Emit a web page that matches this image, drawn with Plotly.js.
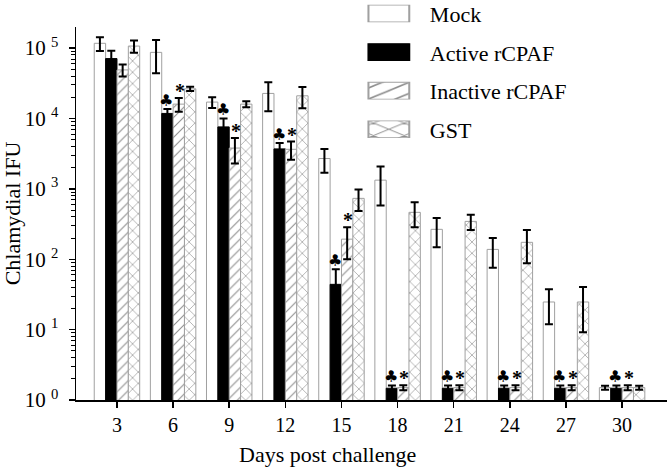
<!DOCTYPE html>
<html>
<head>
<meta charset="utf-8">
<script src="https://cdn.plot.ly/plotly-3.0.1.min.js"></script>
<style>html,body{margin:0;padding:0;background:#fff;}#chart{width:672px;height:468px;}</style>
</head>
<body>
<div id="chart"></div>
<script>
const days = ['3','6','9','12','15','18','21','24','27','30'];
const mock       = [1.17e5, 8.7e4, 1.71e4, 2.27e4, 2.7e3, 1.33e3, 266, 138, 24.7, 1.5];
const mockSd     = [2.6e4, 4.3e4, 3.0e3, 1.0e4, 1.0e3, 750, 118, 62, 12.8, 0.1];
const active     = [7.1e4, 1.18e4, 7.6e3, 3.7e3, 44, 1.47, 1.47, 1.47, 1.47, 1.47];
const activeSd   = [2.1e4, 1.8e3, 2.4e3, 0.8e3, 28, 0.14, 0.14, 0.14, 0.14, 0.14];
const inactive   = [4.9e4, 1.6e4, 3.8e3, 3.65e3, 193, 1.5, 1.5, 1.5, 1.5, 1.5];
const inactiveSd = [9.5e3, 3.5e3, 1.5e3, 1.05e3, 93, 0.12, 0.12, 0.12, 0.12, 0.12];
const gst        = [1.07e5, 2.64e4, 1.6e4, 2.1e4, 733, 464, 345, 174, 24.7, 1.5];
const gstSd      = [2.1e4, 1.8e3, 1.6e3, 7.0e3, 250, 180, 85, 86, 15.5, 0.1];
const activeSig   = [0,1,1,1,1,1,1,1,1,1];
const inactiveSig = [0,1,1,1,1,1,1,1,1,1];
const seriesNames = ['Mock', 'Active rCPAF', 'Inactive rCPAF', 'GST'];
const yTickVals = [1, 10, 100, 1000, 10000, 100000];
const yTickText = ['10 <sup>0</sup>', '10 <sup>1</sup>', '10 <sup>2</sup>', '10 <sup>3</sup>', '10 <sup>4</sup>', '10 <sup>5</sup>'];

const FONT = 'Liberation Serif, Times New Roman, serif';
const errStyle = sd => ({type:'data', array: sd, visible:true, color:'#000', thickness:2, width:4});

const traces = [
  {type:'bar', name:seriesNames[0], x:days, y:mock, error_y:errStyle(mockSd), legendgroup:'a',
   marker:{color:'#ffffff', line:{color:'#a0a0a0', width:1}}},
  {type:'bar', name:seriesNames[1], x:days, y:active, error_y:errStyle(activeSd), legendgroup:'b',
   marker:{color:'#000000', line:{color:'#000', width:1}}},
  {type:'bar', name:seriesNames[2], x:days, y:inactive, error_y:errStyle(inactiveSd), legendgroup:'c',
   marker:{color:'#ffffff', line:{color:'#a0a0a0', width:1},
     pattern:{shape:'/', fgcolor:'#8c8c8c', bgcolor:'#ffffff', size:7, solidity:0.15}}},
  {type:'bar', name:seriesNames[3], x:days, y:gst, error_y:errStyle(gstSd), legendgroup:'d',
   marker:{color:'#ffffff', line:{color:'#a0a0a0', width:1},
     pattern:{shape:'x', fgcolor:'#8c8c8c', bgcolor:'#ffffff', size:8, solidity:0.15}}}
];

const barW = 0.81/4;
const annotations = [];
days.forEach((d,i) => {
  if (activeSig[i]) annotations.push({x:i - barW/2, y:Math.log10(active[i]+activeSd[i]), xref:'x', yref:'y',
    text:'\u2663', showarrow:false, yanchor:'bottom', yshift:-3, xshift:-1, font:{family:'DejaVu Sans', size:16, color:'#000'}});
  if (inactiveSig[i]) annotations.push({x:i + barW/2, y:Math.log10(inactive[i]+inactiveSd[i]), xref:'x', yref:'y',
    text:'<b>*</b>', showarrow:false, yanchor:'bottom', yshift:-6, xshift:1, font:{family:FONT, size:20, color:'#000'}});
});
annotations.push({x:0.426, y:-0.147, xref:'paper', yref:'paper', text:'Days post challenge', showarrow:false,
  xanchor:'center', yanchor:'middle', font:{family:FONT, size:22, color:'#000'}});

const layout = {
  width:672, height:468,
  margin:{l:76, r:5, t:27, b:68, autoexpand:false},
  paper_bgcolor:'#fff', plot_bgcolor:'#fff',
  barmode:'group', bargap:0.19, bargroupgap:0,
  font:{family:FONT, color:'#000'},
  showlegend:true,
  legend:{x:0.46, y:1.092, xanchor:'left', yanchor:'top', bgcolor:'rgba(0,0,0,0)',
    font:{family:FONT, size:22, color:'#000'}, itemwidth:72, tracegroupgap:7, traceorder:'grouped'},
  xaxis:{type:'category', range:[-0.73, 9.8], showline:true, linecolor:'#000', linewidth:1.5,
    ticks:'outside', ticklen:6, tickwidth:1.5, tickcolor:'#000', showgrid:false, zeroline:false,
    tickfont:{family:FONT, size:20, color:'#000'}},
  yaxis:{type:'log', range:[0, 5.3], showline:true, linecolor:'#000', linewidth:1.5,
    ticks:'outside', ticklen:6, tickwidth:1.5, tickcolor:'#000', showgrid:false, zeroline:false,
    tickmode:'array', tickvals:yTickVals, ticktext:yTickText, ticklabelstandoff:6,
    tickfont:{family:FONT, size:21, color:'#000'},
    minor:{dtick:'D1', ticks:'outside', ticklen:4, tickwidth:1, tickcolor:'#000', showgrid:false},
    title:{text:'Chlamydial IFU', font:{family:FONT, size:22, color:'#000'}, standoff:6}},
  annotations: annotations
};

Plotly.newPlot('chart', traces, layout, {staticPlot:true}).then(() => {
  document.querySelectorAll('#chart .legend .legendpoints path').forEach(p => {
    const t = p.getAttribute('transform') || '';
    p.setAttribute('transform', t + ' scale(3.4,1.4)');
    p.style.strokeWidth = '0.6px';
  });
});
</script>
</body>
</html>
